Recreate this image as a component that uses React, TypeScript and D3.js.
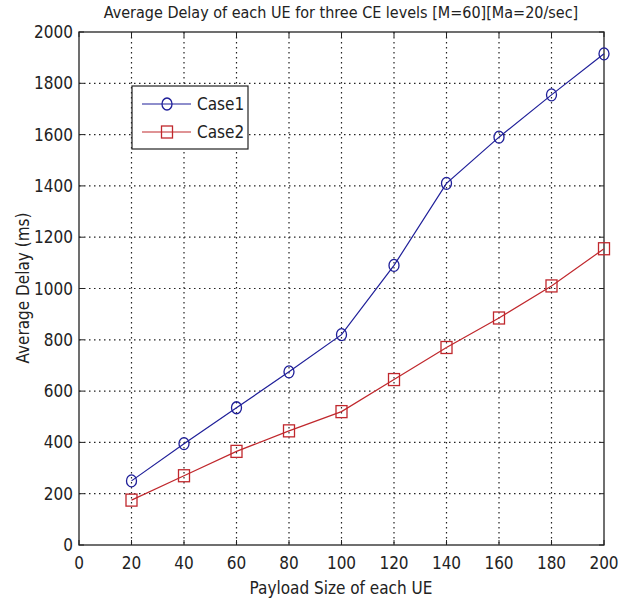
import React from 'react';
import * as d3 from 'd3';

// data
const payload = [20, 40, 60, 80, 100, 120, 140, 160, 180, 200];
const case1 = [250, 395, 535, 675, 820, 1090, 1410, 1590, 1755, 1915];
const case2 = [175, 270, 365, 445, 520, 645, 770, 885, 1010, 1155];
const xTicks = [0, 20, 40, 60, 80, 100, 120, 140, 160, 180, 200];
const yTicks = [0, 200, 400, 600, 800, 1000, 1200, 1400, 1600, 1800, 2000];

const font = '"Liberation Sans Narrow", "DejaVu Sans Condensed", "Liberation Sans", sans-serif';
const blue = '#1f1f99';
const red = '#c0282d';

export default function App() {
  const width = 635;
  const height = 603;
  const left = 79;
  const right = 604;
  const top = 32;
  const bottom = 545;

  const x = d3.scaleLinear().domain([0, 200]).range([left, right]);
  const y = d3.scaleLinear().domain([0, 2000]).range([bottom, top]);

  const line = d3
    .line<number>()
    .x((d, i) => x(payload[i]))
    .y((d) => y(d));

  return (
    <svg
      width={width}
      height={height}
      style={{ position: 'absolute', left: 0, top: 0, background: '#fff' }}
      fontFamily={font}
    >
      <rect x={0} y={0} width={width} height={height} fill="#fff" />

      {/* grid */}
      {xTicks.slice(1, -1).map((t) => (
        <line key={'gx' + t} x1={x(t)} x2={x(t)} y1={top} y2={bottom}
          stroke="#222" strokeWidth={1.2} strokeDasharray="1.5,3.5" />
      ))}
      {yTicks.slice(1, -1).map((t) => (
        <line key={'gy' + t} x1={left} x2={right} y1={y(t)} y2={y(t)}
          stroke="#222" strokeWidth={1.2} strokeDasharray="1.5,3.5" />
      ))}

      {/* tick marks, inward on all four sides */}
      {xTicks.map((t) => (
        <g key={'tx' + t}>
          <line x1={x(t)} x2={x(t)} y1={bottom} y2={bottom - 5} stroke="#222" />
          <line x1={x(t)} x2={x(t)} y1={top} y2={top + 5} stroke="#222" />
          <text x={x(t)} y={569} textAnchor="middle" fontSize={17} fill="#222">{t}</text>
        </g>
      ))}
      {yTicks.map((t) => (
        <g key={'ty' + t}>
          <line x1={left} x2={left + 5} y1={y(t)} y2={y(t)} stroke="#222" />
          <line x1={right} x2={right - 5} y1={y(t)} y2={y(t)} stroke="#222" />
          <text x={73} y={y(t) + 6} textAnchor="end" fontSize={17} fill="#222">{t}</text>
        </g>
      ))}

      <rect x={left} y={top} width={right - left} height={bottom - top}
        fill="none" stroke="#222" strokeWidth={1.3} />

      {/* series */}
      <path d={line(case1) || ''} fill="none" stroke={blue} strokeWidth={1.2} />
      <path d={line(case2) || ''} fill="none" stroke={red} strokeWidth={1.2} />
      {case1.map((v, i) => (
        <ellipse key={'c1' + i} cx={x(payload[i])} cy={y(v)} rx={5} ry={6}
          fill="none" stroke={blue} strokeWidth={1.3} />
      ))}
      {case2.map((v, i) => (
        <rect key={'c2' + i} x={x(payload[i]) - 5.5} y={y(v) - 6} width={11} height={12}
          fill="none" stroke={red} strokeWidth={1.3} />
      ))}

      {/* legend */}
      <rect x={132} y={86} width={116} height={63} fill="#fff" stroke="#222" strokeWidth={1.2} />
      <line x1={142} x2={191} y1={104} y2={104} stroke={blue} strokeWidth={1.2} />
      <ellipse cx={167} cy={104} rx={5} ry={6} fill="none" stroke={blue} strokeWidth={1.3} />
      <text x={197} y={110} fontSize={17} fill="#222">Case1</text>
      <line x1={142} x2={191} y1={132} y2={132} stroke={red} strokeWidth={1.2} />
      <rect x={161.5} y={126} width={11} height={12} fill="none" stroke={red} strokeWidth={1.3} />
      <text x={197} y={138} fontSize={17} fill="#222">Case2</text>

      {/* titles */}
      <text x={341} y={18} textAnchor="middle" fontSize={16} fill="#222">
        Average Delay of each UE  for three CE levels [M=60][Ma=20/sec]
      </text>
      <text x={341} y={594} textAnchor="middle" fontSize={17} fill="#222">
        Payload Size of each UE
      </text>
      <text transform="translate(29,288) rotate(-90)" textAnchor="middle" fontSize={17} fill="#222">
        Average Delay (ms)
      </text>
    </svg>
  );
}
